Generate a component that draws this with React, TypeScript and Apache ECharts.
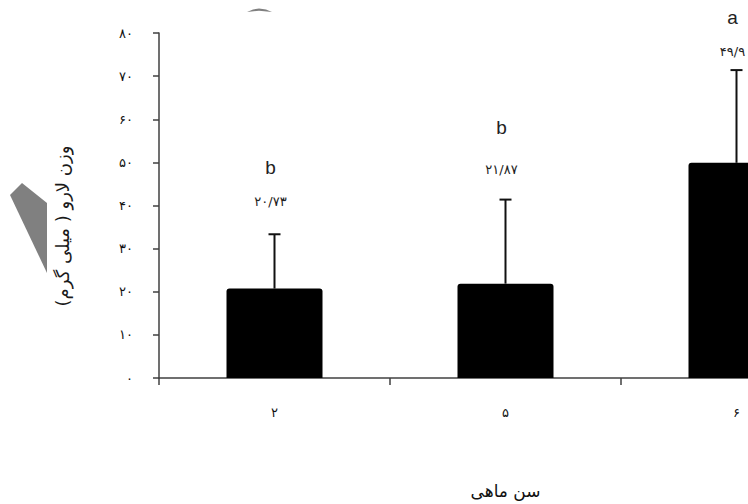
import React, { useEffect, useRef } from "react";
import * as echarts from "echarts";

const categories = ["۲", "۵", "۶"];
const means = [20.73, 21.87, 49.9];
const errors = [12.6, 19.5, 21.5];
const valueTexts = ["۲۰/۷۳", "۲۱/۸۷", "۴۹/۹"];
const groupLetters = ["b", "b", "a"];
const valueTextY = [40.9, 48.3, 75.6];
const letterY = [48.8, 58.0, 83.5];
const yTickLabels = ["۰", "۱۰", "۲۰", "۳۰", "۴۰", "۵۰", "۶۰", "۷۰", "۸۰"];
const xAxisName = "سن ماهی";
const yAxisName = "\u200Fوزن لارو ( میلی گرم)\u200F";

const arabicFont = "'DejaVu Sans', sans-serif";

export default function App() {
  const ref = useRef<HTMLDivElement>(null);
  useEffect(() => {
    if (!ref.current) return;
    const chart = echarts.init(ref.current, null, { renderer: "svg" });
    const option: any = {
      animation: false,
      backgroundColor: "#ffffff",
      grid: { left: 159, top: 33, width: 693, height: 346, containLabel: false },
      xAxis: {
        type: "category",
        data: categories,
        name: xAxisName,
        nameLocation: "middle",
        nameGap: 104,
        nameTextStyle: { fontFamily: arabicFont, fontSize: 17, color: "#111" },
        axisLine: { lineStyle: { color: "#404040", width: 1.5 } },
        axisTick: { show: true, length: 7, lineStyle: { color: "#404040", width: 1.5 } },
        axisLabel: { margin: 28, fontFamily: arabicFont, fontSize: 13, color: "#111" },
        splitLine: { show: false },
      },
      yAxis: {
        type: "value",
        min: 0,
        max: 80,
        interval: 10,
        axisLine: { show: true, lineStyle: { color: "#404040", width: 1.5 } },
        axisTick: { show: true, length: 6, lineStyle: { color: "#404040", width: 1.5 } },
        axisLabel: {
          margin: 26,
          fontFamily: arabicFont,
          fontSize: 13,
          color: "#111",
          formatter: (v: number) => yTickLabels[Math.round(v / 10)] ?? "",
        },
        splitLine: { show: false },
      },
      graphic: [
        {
          type: "text",
          x: 62,
          y: 226,
          rotation: Math.PI / 2,
          style: {
            text: yAxisName,
            fontFamily: arabicFont,
            fontSize: 18,
            fill: "#1a1a1a",
            align: "center",
            verticalAlign: "middle",
          },
        },
        {
          type: "polygon",
          shape: { points: [[10, 195], [22, 183], [47, 203], [47, 273]] },
          style: { fill: "#808080" },
        },
        {
          type: "polygon",
          shape: { points: [[247, 12], [253, 9.5], [259, 8.5], [266, 9.5], [272, 12], [259, 10.8]] },
          style: { fill: "#808080" },
        },
      ],
      series: [
        {
          type: "bar",
          data: means,
          barWidth: 96,
          itemStyle: { color: "#000000", borderRadius: [3, 3, 0, 0] },
          z: 2,
        },
        {
          type: "custom",
          z: 3,
          data: means.map((m, i) => [i, m, m + errors[i]]),
          renderItem: (params: any, api: any) => {
            const i = api.value(0);
            const low = api.coord([i, api.value(1)]);
            const high = api.coord([i, api.value(2)]);
            const style = { stroke: "#111", lineWidth: 2 };
            return {
              type: "group",
              children: [
                { type: "line", shape: { x1: low[0], y1: low[1], x2: high[0], y2: high[1] }, style },
                { type: "line", shape: { x1: high[0] - 6, y1: high[1], x2: high[0] + 6, y2: high[1] }, style },
              ],
            };
          },
        },
        {
          type: "custom",
          z: 4,
          data: categories.map((_, i) => [i, valueTextY[i], letterY[i]]),
          renderItem: (params: any, api: any) => {
            const i = api.value(0);
            const idx = params.dataIndex;
            const p1 = api.coord([i, api.value(1)]);
            const p2 = api.coord([i, api.value(2)]);
            return {
              type: "group",
              children: [
                {
                  type: "text",
                  x: p1[0] - 4,
                  y: p1[1],
                  style: {
                    text: valueTexts[idx],
                    fontFamily: arabicFont,
                    fontSize: 13,
                    fill: "#222",
                    align: "center",
                    verticalAlign: "middle",
                  },
                },
                {
                  type: "text",
                  x: p2[0] - 4,
                  y: p2[1],
                  style: {
                    text: groupLetters[idx],
                    fontFamily: "'Liberation Sans', Arial, sans-serif",
                    fontSize: 19,
                    fill: "#222",
                    align: "center",
                    verticalAlign: "middle",
                  },
                },
              ],
            };
          },
        },
      ],
    };
    chart.setOption(option);
    return () => chart.dispose();
  }, []);
  return (
    <div style={{ position: "absolute", left: 0, top: 0, width: 748, height: 504, overflow: "hidden" }}>
      <div ref={ref} style={{ width: 900, height: 504 }} />
    </div>
  );
}
